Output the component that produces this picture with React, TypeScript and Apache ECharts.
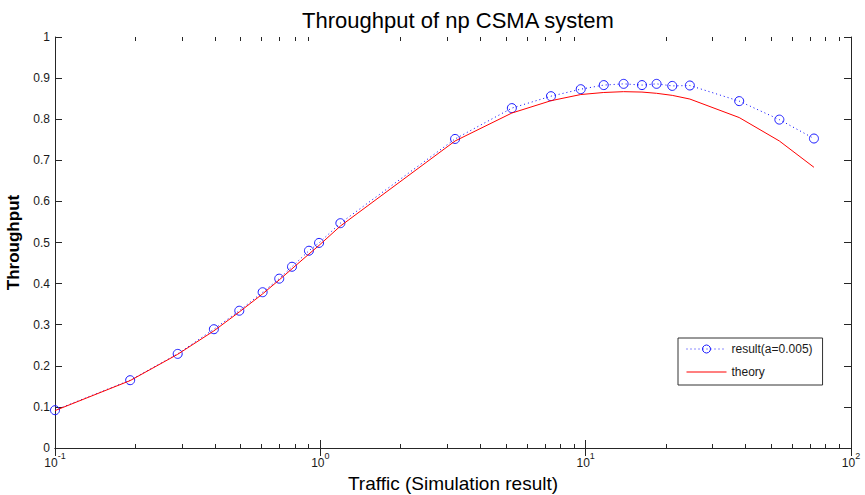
import React, { useEffect, useRef } from "react";
import * as echarts from "echarts";

// Simulation results (measured traffic G, throughput S)
const resultX = [0.1, 0.192, 0.29, 0.397, 0.495, 0.606, 0.70, 0.782, 0.906, 0.989, 1.19, 3.22, 5.27, 7.40, 9.58, 11.7, 13.9, 16.3, 18.5, 21.2, 24.7, 37.9, 53.7, 72.5];
const resultY = [0.092, 0.165, 0.229, 0.289, 0.334, 0.379, 0.412, 0.441, 0.480, 0.499, 0.547, 0.752, 0.827, 0.856, 0.873, 0.883, 0.886, 0.883, 0.886, 0.881, 0.882, 0.844, 0.799, 0.753];
// Theory curve at the same traffic values
const theoryY = [0.091, 0.164, 0.228, 0.285, 0.331, 0.375, 0.409, 0.436, 0.472, 0.493, 0.540, 0.747, 0.815, 0.845, 0.860, 0.865, 0.867, 0.866, 0.863, 0.858, 0.849, 0.804, 0.747, 0.683];

const seriesNames = ["result(a=0.005)", "theory"];
const xMin = 0.1;
const xMax = 100;
const yTicks = [0, 0.1, 0.2, 0.3, 0.4, 0.5, 0.6, 0.7, 0.8, 0.9, 1];
const decades = [0.1, 1, 10];
const minorMultipliers = [2, 3, 4, 5, 6, 7, 8, 9];

const FONT = "Liberation Sans, Arial, Helvetica, sans-serif";
const AXIS_COLOR = "#262626";
const TEXT_COLOR = "#1a1a1a";
const BLUE = "#1a1aff";
// thin horizontal line icon inside a 40x10 box (corner dots keep the box size)
const LINE_ICON = "path://M0,0L0.01,0L0.01,0.01Z M0,4.5L40,4.5L40,5.6L0,5.6Z M39.99,10L40,10L40,9.99Z";

export default function App() {
  const ref = useRef<HTMLDivElement>(null);

  useEffect(() => {
    document.body.style.margin = "0";
    if (!ref.current) return;
    const chart = echarts.init(ref.current, undefined, { renderer: "svg" });

    const minorTicks: number[][] = [];
    decades.forEach((d) => minorMultipliers.forEach((m) => minorTicks.push([+(d * m).toPrecision(3), 0])));

    const logLabel = (v: number) => {
      const e = Math.round(Math.log10(v));
      return "{b|10}{s|" + e + "}";
    };

    const tickStyle = { show: true, inside: true, length: 8, lineStyle: { color: AXIS_COLOR, width: 1 } };
    const yTickStyle = { show: true, inside: true, length: 7, lineStyle: { color: AXIS_COLOR, width: 1 } };
    const axisLine = { show: true, lineStyle: { color: AXIS_COLOR, width: 1 } };

    const option: any = {
      animation: false,
      backgroundColor: "#ffffff",
      title: {
        text: "Throughput of np CSMA system",
        left: 453,
        textAlign: "center",
        top: 4,
        textStyle: { fontFamily: FONT, fontSize: 22, fontWeight: "normal", color: "#000" },
      },
      grid: { left: 55, right: 14, top: 37, bottom: 47, containLabel: false, outerBoundsMode: "none" },
      legend: {
        data: [
          {
            name: seriesNames[0],
            itemStyle: { color: "rgba(255,255,255,0)", borderColor: BLUE, borderWidth: 1 },
            lineStyle: { color: BLUE, width: 1, type: [1, 3] },
          },
          { name: seriesNames[1], icon: LINE_ICON, itemStyle: { color: "#ff0000", borderWidth: 0 } },
        ],
        orient: "vertical",
        left: 678,
        top: 338,
        backgroundColor: "#fff",
        borderColor: "#333",
        borderWidth: 1,
        borderRadius: 0,
        padding: [5, 10, 7, 8],
        itemWidth: 40,
        itemHeight: 10,
        itemGap: 11,
        textStyle: { fontFamily: FONT, fontSize: 12, color: TEXT_COLOR },
      },
      xAxis: [
        {
          type: "log",
          logBase: 10,
          min: xMin,
          max: xMax,
          position: "bottom",
          name: "Traffic (Simulation result)",
          nameLocation: "middle",
          nameGap: 25,
          nameTextStyle: { fontFamily: FONT, fontSize: 19, color: "#000" },
          axisLine,
          axisTick: tickStyle,
          splitLine: { show: false },
          axisLabel: {
            margin: 3,
            formatter: logLabel,
            rich: {
              b: { fontFamily: FONT, fontSize: 12, color: TEXT_COLOR, lineHeight: 18, verticalAlign: "bottom" },
              s: { fontFamily: FONT, fontSize: 9, color: TEXT_COLOR, lineHeight: 18, verticalAlign: "top" },
            },
          },
        },
        {
          type: "log",
          logBase: 10,
          min: xMin,
          max: xMax,
          position: "top",
          axisLine,
          axisTick: tickStyle,
          axisLabel: { show: false },
          splitLine: { show: false },
        },
      ],
      yAxis: [
        {
          type: "value",
          min: 0,
          max: 1,
          interval: 0.1,
          position: "left",
          name: "Throughput",
          nameLocation: "middle",
          nameGap: 31,
          nameTextStyle: { fontFamily: FONT, fontSize: 17, fontWeight: "bold", color: "#000" },
          axisLine,
          axisTick: yTickStyle,
          splitLine: { show: false },
          axisLabel: {
            margin: 5,
            fontFamily: FONT,
            fontSize: 12,
            color: TEXT_COLOR,
            formatter: (v: number) => {
              const t = yTicks.find((k) => Math.abs(k - v) < 1e-6);
              return String(t !== undefined ? t : v);
            },
          },
        },
        {
          type: "value",
          min: 0,
          max: 1,
          interval: 0.1,
          position: "right",
          axisLine,
          axisTick: yTickStyle,
          axisLabel: { show: false },
          splitLine: { show: false },
        },
      ],
      series: [
        {
          name: seriesNames[0],
          type: "line",
          xAxisIndex: 0,
          yAxisIndex: 0,
          data: resultX.map((x, i) => [x, resultY[i]]),
          symbol: "circle",
          symbolSize: 9,
          showSymbol: true,
          showAllSymbol: true,
          color: BLUE,
          itemStyle: { color: "rgba(255,255,255,0)", borderColor: BLUE, borderWidth: 1 },
          lineStyle: { color: "#0000ff", width: 1, type: [1, 3] },
          z: 2,
        },
        {
          name: seriesNames[1],
          type: "line",
          xAxisIndex: 0,
          yAxisIndex: 0,
          data: resultX.map((x, i) => [x, theoryY[i]]),
          symbol: "none",
          color: "#ff0000",
          lineStyle: { color: "#ff0000", width: 1 },
          z: 3,
        },
        {
          type: "custom",
          silent: true,
          xAxisIndex: 0,
          yAxisIndex: 0,
          data: minorTicks,
          encode: { x: 0, y: 1 },
          z: 4,
          renderItem: (params: any, api: any) => {
            const x = Math.round(api.coord([api.value(0), 0])[0]) + 0.5;
            const cs = params.coordSys;
            const yb = cs.y + cs.height;
            const yt = cs.y;
            const style = { stroke: AXIS_COLOR, lineWidth: 1 };
            return {
              type: "group",
              children: [
                { type: "line", shape: { x1: x, y1: yb, x2: x, y2: yb - 4 }, style },
                { type: "line", shape: { x1: x, y1: yt, x2: x, y2: yt + 4 }, style },
              ],
            };
          },
        },
      ],
    };

    chart.setOption(option);
    return () => chart.dispose();
  }, []);

  return <div ref={ref} style={{ width: 865, height: 495 }} />;
}
